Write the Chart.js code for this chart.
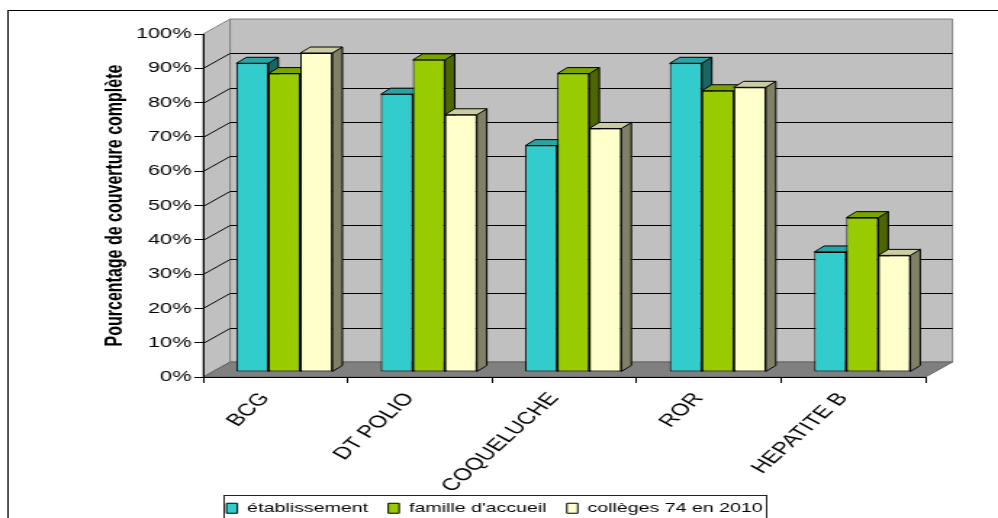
<!DOCTYPE html>
<html>
<head>
<meta charset="utf-8">
<script src="https://cdn.jsdelivr.net/npm/chart.js@4/dist/chart.umd.min.js"></script>
<style>
    body { margin: 0; background: #fff; }
    /* the original picture is stretched horizontally */
    #wrap { width: 688px; height: 518px; transform: scaleX(1.4506); transform-origin: 0 0; }
</style>
</head>
<body>
<div id="wrap"><canvas id="ChartCouverture" width="688" height="518"></canvas></div>
<script>
var categories = ['BCG', 'DT POLIO', 'COQUELUCHE', 'ROR', 'HEPATITE B'];
var seriesNames = ['établissement', "famille d'accueil", 'collèges 74 en 2010'];
var etablissement = [90, 81, 66, 90, 35];
var familleAccueil = [87, 91, 87, 82, 45];
var colleges74 = [93, 75, 71, 83, 34];
var yTicks = [0, 10, 20, 30, 40, 50, 60, 70, 80, 90, 100];

var frontColors = ['#33CCCC', '#99CC00', '#FFFFCC'];
var topColors = ['#29A3A3', '#7AA300', '#CCCCA3'];
var sideColors = ['#1A6666', '#4D6600', '#808066'];

var S = 1.4506;
var DX = 27 / S, DY = -15;   // back wall offset
var BX = 9 / S, BY = -5;     // front face of the bars
var KX = 10 / S, KY = -6;    // depth of the bars

function poly(ctx, pts, fill, stroke) {
    ctx.beginPath();
    ctx.moveTo(pts[0][0], pts[0][1]);
    for (var i = 1; i < pts.length; i++) ctx.lineTo(pts[i][0], pts[i][1]);
    ctx.closePath();
    if (fill) { ctx.fillStyle = fill; ctx.fill(); }
    if (stroke) { ctx.strokeStyle = stroke; ctx.stroke(); }
}

var box3d = {
    id: 'box3d',
    beforeDraw: function (chart) {
        var ctx = chart.ctx, a = chart.chartArea, y = chart.scales.y;
        ctx.save();
        ctx.lineWidth = 1;
        // side wall, back wall, floor
        poly(ctx, [[a.left, a.top], [a.left + DX, a.top + DY], [a.left + DX, a.bottom + DY], [a.left, a.bottom]], '#C0C0C0', '#808080');
        poly(ctx, [[a.left + DX, a.top + DY], [a.right + DX, a.top + DY], [a.right + DX, a.bottom + DY], [a.left + DX, a.bottom + DY]], '#C0C0C0', '#808080');
        poly(ctx, [[a.left, a.bottom], [a.right, a.bottom], [a.right + DX, a.bottom + DY], [a.left + DX, a.bottom + DY]], '#808080', '#606060');
        // grid lines on the walls
        ctx.strokeStyle = '#000';
        y.ticks.forEach(function (t) {
            if (t.value <= 0 || t.value >= 100) return;
            var py = Math.round(y.getPixelForValue(t.value)) + 0.5;
            ctx.beginPath();
            ctx.moveTo(a.left, py);
            ctx.lineTo(a.left + DX, py + DY);
            ctx.lineTo(a.right + DX, py + DY);
            ctx.stroke();
        });
        ctx.restore();
    },
    beforeDatasetsDraw: function (chart) {
        var ctx = chart.ctx;
        ctx.save();
        ctx.lineWidth = 1;
        for (var j = 0; j < categories.length; j++) {
            for (var i = 0; i < chart.data.datasets.length; i++) {
                var bar = chart.getDatasetMeta(i).data[j];
                var left = bar.x - bar.width / 2 + BX, right = left + bar.width;
                var top = bar.y + BY, base = bar.base + BY;
                poly(ctx, [[right, top], [right + KX, top + KY], [right + KX, base + KY], [right, base]], sideColors[i], '#000');
                poly(ctx, [[left, top], [right, top], [right + KX, top + KY], [left + KX, top + KY]], topColors[i], '#000');
            }
        }
        ctx.restore();
        // front faces are drawn by Chart.js, moved onto the bar plane
        ctx.save();
        ctx.translate(BX, BY);
    },
    afterDatasetsDraw: function (chart) {
        chart.ctx.restore();
    },
    afterLayout: function (chart) {
        chart.legend.top += 7;
        chart.legend.bottom += 7;
        // long rotated labels run down past the legend top
        chart.scales.x.bottom = chart.height;
    },
    afterDraw: function (chart) {
        var ctx = chart.ctx;
        ctx.save();
        ctx.lineWidth = 1;
        ctx.strokeStyle = '#000';
        ctx.strokeRect(5.5, 10.5, 720, 540);
        var hb = chart.legend.legendHitBoxes;
        if (hb && hb.length) {
            var last = hb[hb.length - 1];
            var x0 = hb[0].left - 2, x1 = last.left + last.width + 2;
            ctx.strokeStyle = '#222';
            ctx.strokeRect(Math.round(x0) + 0.5, Math.round(hb[0].top - 7) + 0.5, Math.round(x1 - x0), 60);
        }
        ctx.restore();
    }
};

var ctx = document.getElementById('ChartCouverture').getContext('2d');

var graph = new Chart(ctx, {
    type: 'bar',
    data: {
        labels: categories,
        datasets: [
            { label: seriesNames[0], data: etablissement, backgroundColor: frontColors[0] },
            { label: seriesNames[1], data: familleAccueil, backgroundColor: frontColors[1] },
            { label: seriesNames[2], data: colleges74, backgroundColor: frontColors[2] }
        ]
    },
    options: {
        responsive: false,
        animation: false,
        layout: { padding: { left: 44, right: 50, top: 34, bottom: 0 } },
        datasets: {
            bar: {
                borderColor: '#000',
                borderWidth: 1,
                borderSkipped: false,
                barPercentage: 1,
                categoryPercentage: 0.665
            }
        },
        scales: {
            x: {
                grid: { drawOnChartArea: false, tickLength: 6, color: '#000' },
                border: { color: '#000' },
                ticks: {
                    color: '#000',
                    font: { family: 'Liberation Sans, Arial', size: 17 },
                    minRotation: 52,
                    maxRotation: 52,
                    padding: 6,
                    labelOffset: -7,
                    autoSkip: false
                },
                afterFit: function (axis) {
                    axis.height = 518 - 377 - axis.chart.legend.height;
                }
            },
            y: {
                min: 0,
                max: 100,
                afterBuildTicks: function (axis) {
                    axis.ticks = yTicks.map(function (v) { return { value: v }; });
                },
                grid: { drawOnChartArea: false, tickLength: 6, color: '#000' },
                border: { color: '#000' },
                ticks: {
                    color: '#000',
                    padding: 2,
                    font: { family: 'Liberation Sans, Arial', size: 15 },
                    callback: function (v) { return v + '%'; }
                },
                title: {
                    display: true,
                    text: 'Pourcentage de couverture complète',
                    color: '#000',
                    font: { family: 'Liberation Sans, Arial', size: 16, weight: 'bold' },
                    padding: { top: 26, bottom: 0 }
                },
                afterFit: function (axis) {
                    axis.width = 96;
                }
            }
        },
        plugins: {
            tooltip: { enabled: false },
            legend: {
                position: 'bottom',
                labels: {
                    color: '#000',
                    font: { family: 'Liberation Sans, Arial', size: 13.5 },
                    boxWidth: 7.5,
                    boxHeight: 10,
                    padding: 14
                }
            }
        }
    },
    plugins: [box3d]
});
</script>
</body>
</html>
